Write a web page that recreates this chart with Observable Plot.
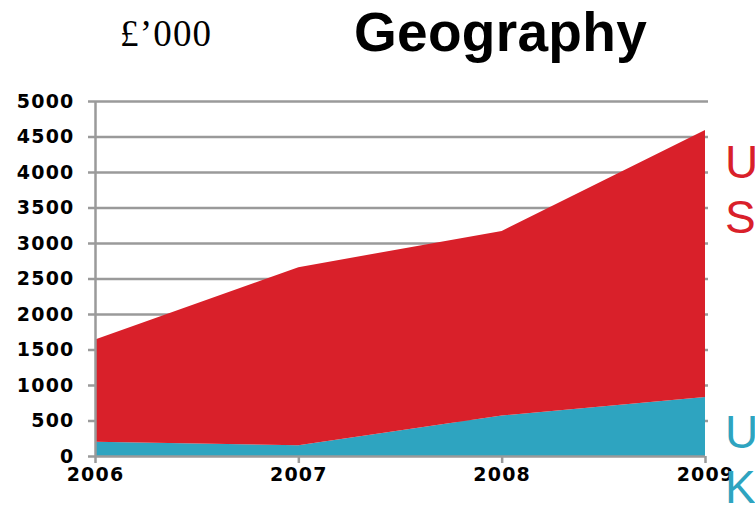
<!DOCTYPE html>
<html>
<head>
<meta charset="utf-8">
<script src="https://cdn.jsdelivr.net/npm/d3@7"></script>
<script src="https://cdn.jsdelivr.net/npm/@observablehq/plot@0.6"></script>
<style>
  html, body { margin: 0; padding: 0; background: #fff; }
  #wrap { position: relative; width: 755px; height: 507px; overflow: hidden; }
  .lbl { position: absolute; white-space: nowrap; line-height: 1; }
  #unit { left: 120px; top: 15px; font-family: "Liberation Serif", serif; font-size: 37px; letter-spacing: 1.2px; color: #000; }
  #title { left: 354px; top: 5px; font-family: "Liberation Sans", Arial, sans-serif; font-weight: bold; font-size: 55px; letter-spacing: 0.3px; color: #000; }
  .side { font-family: "Liberation Sans", Arial, sans-serif; font-size: 46px; line-height: 55px; left: 725px; }
  #us { top: 135px; color: #d9202a; }
  #uk { top: 405px; color: #2ea4c0; }
  svg { position: absolute; left: 0; top: 0; }
  svg [aria-label$="tick label"] text { letter-spacing: 1.2px; }
</style>
</head>
<body>
<div id="wrap"></div>
<script>
const years = [2006, 2007, 2008, 2009];
const ukValues = [200, 150, 570, 830];
const usValues = [1440, 2510, 2600, 3760];
const yTicks = [0, 500, 1000, 1500, 2000, 2500, 3000, 3500, 4000, 4500, 5000];
const regions = ["UK", "US"];
const regionColors = ["#2ea4c0", "#d9202a"];
const titleText = "Geography";
const unitText = "£’000";

const data = [];
years.forEach((yr, i) => {
  data.push({year: yr, region: "UK", value: ukValues[i]});
  data.push({year: yr, region: "US", value: usValues[i]});
});

const gray = "#9a9a9a";
const fmt = d3.format("d");
const plot = Plot.plot({
  width: 755,
  height: 507,
  marginLeft: 95,
  marginRight: 50,
  marginTop: 101,
  marginBottom: 51,
  style: {fontFamily: "'DejaVu Sans', sans-serif", fontWeight: "bold", fontSize: "19px", color: "#000", background: "transparent"},
  x: {type: "linear", domain: [2006, 2009], ticks: years, tickFormat: fmt, label: null},
  y: {domain: [0, 5000], ticks: yTicks, tickFormat: fmt, label: null},
  color: {domain: regions, range: regionColors},
  marks: [
    Plot.gridY(yTicks.filter(d => d > 0), {stroke: gray, strokeOpacity: 1, strokeWidth: 2.5, insetRight: -3}),
    Plot.areaY(data, {x: "year", y: "value", fill: "region", order: regions}),
    Plot.axisY({ticks: yTicks, tickFormat: fmt, tickSize: 7, tickPadding: 14, fontSize: 19, fontWeight: "bold", stroke: gray, strokeWidth: 2.5, fill: "#000"}),
    Plot.axisX({ticks: years, tickFormat: fmt, tickSize: 7, tickPadding: 4, fontSize: 19, fontWeight: "bold", stroke: gray, strokeWidth: 2.5, fill: "#000"}),
    Plot.ruleX([2006], {y1: 0, y2: 5000, stroke: gray, strokeWidth: 2.5}),
    Plot.ruleY([0], {x1: 2006, x2: 2009, stroke: gray, strokeWidth: 2.5})
  ]
});

const wrap = document.getElementById("wrap");
wrap.appendChild(plot);

function addLabel(id, cls, html) {
  const d = document.createElement("div");
  d.id = id; d.className = "lbl " + cls; d.innerHTML = html;
  wrap.appendChild(d);
}
addLabel("unit", "", unitText);
addLabel("title", "", titleText);
addLabel("us", "side", "U<br>S");
addLabel("uk", "side", "U<br>K");
</script>
</body>
</html>
